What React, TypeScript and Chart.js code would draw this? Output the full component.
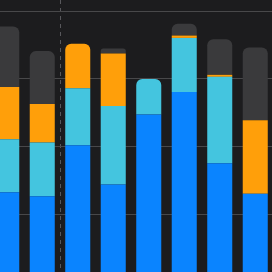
import React, { useEffect, useRef } from "react";
import { Chart, registerables } from "chart.js";

Chart.register(...registerables);

const categories = ["1", "2", "3", "4", "5", "6", "7", "8"];
const blueValues = [26.5, 25.3, 40.4, 28.8, 49.5, 56.1, 35.1, 26.1];
const cyanValues = [15.7, 15.9, 16.8, 23.2, 10.5, 16.0, 25.5, 0];
const orangeValues = [15.4, 11.4, 13.2, 15.5, 0, 0.7, 0.6, 21.7];
const greyValues = [17.9, 15.6, 0, 1.5, 0, 3.5, 10.5, 21.5];
const seriesNames = ["Blue", "Cyan", "Orange", "Grey"];
const yTicks = [0, 20, 40, 60, 80];
const markerIndex = 2; // dashed divider before this category

export default function App() {
  const ref = useRef<HTMLCanvasElement | null>(null);

  useEffect(() => {
    if (!ref.current) return;
    document.body.style.margin = "0";
    document.body.style.background = "#1c1c1e";
    const all = [blueValues, cyanValues, orangeValues, greyValues];
    const radius = (ctx: any) => {
      const di = ctx.datasetIndex;
      const i = ctx.dataIndex;
      if (i === undefined) return 0;
      for (let k = di + 1; k < all.length; k++) {
        if (all[k][i] > 0) return 0;
      }
      return 6;
    };
    const colors = ["#0a84ff", "#44c5df", "#ff9f0a", "#3a3a3c"];
    const chart = new Chart(ref.current, {
      type: "bar",
      data: {
        labels: categories,
        datasets: all.map((d, k) => ({
          label: seriesNames[k],
          data: d,
          backgroundColor: colors[k],
          borderWidth: 0,
          borderRadius: radius,
          categoryPercentage: 1,
          barPercentage: 0.705,
        })),
      },
      options: {
        animation: false,
        responsive: false,
        devicePixelRatio: 1,
        layout: { padding: 0 },
        plugins: { legend: { display: false }, tooltip: { enabled: false } },
        scales: {
          x: {
            stacked: true,
            ticks: { display: false },
            border: { display: false, dash: [4, 4] },
            grid: {
              drawTicks: false,
              offset: true,
              lineWidth: 1,
              color: (ctx: any) =>
                ctx.index === markerIndex ? "#58585c" : "rgba(0,0,0,0)",
            },
          },
          y: {
            stacked: true,
            min: 0,
            max: 83.3,
            afterBuildTicks: (axis: any) => {
              axis.ticks = yTicks.map((v) => ({ value: v }));
            },
            ticks: { display: false },
            border: { display: false },
            grid: {
              drawTicks: false,
              lineWidth: 1,
              color: "#48484a",
            },
          },
        },
      },
    });
    return () => chart.destroy();
  }, []);

  return (
    <div
      style={{
        position: "fixed",
        left: 0,
        top: 0,
        width: 272,
        height: 272,
        overflow: "hidden",
        background: "#1c1c1e",
      }}
    >
      <canvas
        ref={ref}
        width={284}
        height={282}
        style={{ position: "absolute", left: -11, top: 0, width: 284, height: 282 }}
      />
    </div>
  );
}
